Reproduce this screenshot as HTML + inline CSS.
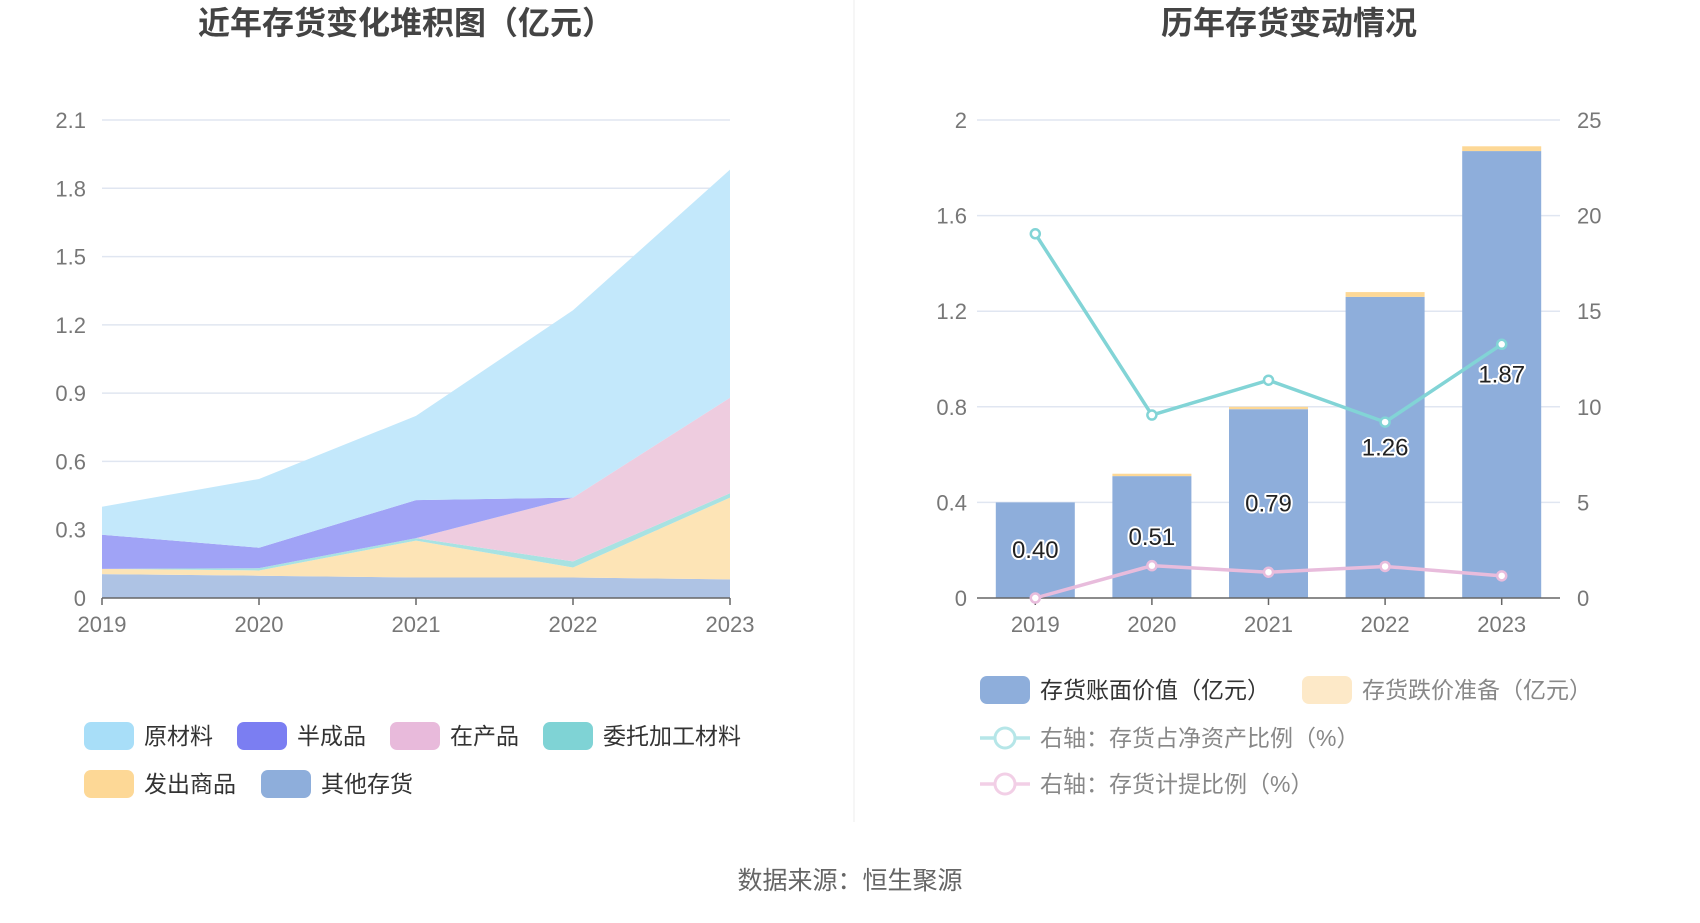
<!DOCTYPE html>
<html><head><meta charset="utf-8"><style>
html,body{margin:0;padding:0;background:#fff;}
svg text{font-family:"Liberation Sans","Noto Sans CJK SC",sans-serif;}
</style></head><body>
<svg id="c" width="1700" height="918" viewBox="0 0 1700 918" xmlns="http://www.w3.org/2000/svg">
<text x="406" y="34" text-anchor="middle" font-size="32" font-weight="bold" fill="#444">近年存货变化堆积图（亿元）</text>
<text x="1289" y="34" text-anchor="middle" font-size="32" font-weight="bold" fill="#444">历年存货变动情况</text>
<line x1="854" y1="0" x2="854" y2="822" stroke="#eee" stroke-width="1"/>
<g id="left"></g>
<g id="right"></g>
<g id="legends"></g>
<text x="850" y="889" text-anchor="middle" font-size="25" fill="#666">数据来源：恒生聚源</text>
</svg>
<script>
const years = ['2019','2020','2021','2022','2023'];
const seriesNames = ['其他存货','发出商品','委托加工材料','在产品','半成品','原材料'];
const other = [0.105,0.098,0.090,0.090,0.082];
const shipped = [0.023,0.023,0.162,0.044,0.359];
const consigned = [0.0,0.010,0.011,0.027,0.019];
const wip = [0.0,0.0,0.0,0.28,0.42];
const semi = [0.15,0.09,0.167,0.0,0.0];
const raw = [0.123,0.302,0.37,0.823,1.002];
const leftTicks = ['0','0.3','0.6','0.9','1.2','1.5','1.8','2.1'];
const bookValue = [0.40,0.51,0.79,1.26,1.87];
const provision = [0.0,0.01,0.01,0.02,0.02];
const bookLabels = ['0.40','0.51','0.79','1.26','1.87'];
const netAssetRatio = [19.05,9.57,11.39,9.2,13.27];
const provisionRatio = [0.0,1.69,1.35,1.65,1.16];
const rightTicksL = ['0','0.4','0.8','1.2','1.6','2'];
const rightTicksR = ['0','5','10','15','20','25'];

const NS='http://www.w3.org/2000/svg';
function mk(tag,attrs,parent,text){const e=document.createElementNS(NS,tag);for(const k in attrs)e.setAttribute(k,attrs[k]);if(text!==undefined)e.textContent=text;parent.appendChild(e);return e;}

// LEFT
const L=document.getElementById('left');
const lx0=102,lx1=730,y0=598,y1=120;
const lx=i=>lx0+i*(lx1-lx0)/4;
const ly=v=>y0-(v/2.1)*(y0-y1);
leftTicks.forEach(t=>{const v=parseFloat(t);const y=ly(v);
 if(v>0){const g=mk('line',{x1:lx0,x2:lx1,y1:y,y2:y,stroke:'#e0e6f1','stroke-width':1.5},L);}
 const tx=mk('text',{x:86,y:y+8,'text-anchor':'end','font-size':22,fill:'#777'},L,t);});
const layers=[other,shipped,consigned,wip,semi,raw];
const colors=['#aec3e4','#fde4b6','#a8e2e2','#eeccdf','#a0a3f6','#c3e8fb'];
let base=[0,0,0,0,0];
layers.forEach((arr,k)=>{const top=base.map((b,i)=>b+arr[i]);
 let d='M'+top.map((v,i)=>lx(i)+','+ly(v)).join(' L');
 for(let i=4;i>=0;i--)d+=' L'+lx(i)+','+ly(base[i]);d+='Z';
 const p=mk('path',{d:d,fill:colors[k]},L);
 base=top;});
const lax=mk('line',{x1:lx0,x2:lx1,y1:y0,y2:y0,stroke:'#666','stroke-width':1.5},L);
years.forEach((yr,i)=>{mk('line',{x1:lx(i),x2:lx(i),y1:y0,y2:y0+7,stroke:'#666','stroke-width':1.5},L);
 const t=mk('text',{x:lx(i),y:y0+34,'text-anchor':'middle','font-size':22,fill:'#777'},L,yr);});

// RIGHT
const R=document.getElementById('right');
const rx0=977,rx1=1560,band=(rx1-rx0)/5;
const rx=i=>rx0+band*(i+0.5);
const ryL=v=>y0-(v/2)*(y0-y1);
const ryR=v=>y0-(v/25)*(y0-y1);
rightTicksL.forEach((t,k)=>{const y=ryL(parseFloat(t));
 if(k>0){const g=mk('line',{x1:rx0,x2:rx1,y1:y,y2:y,stroke:'#e0e6f1','stroke-width':1.5},R);}
 const a=mk('text',{x:rx0-10,y:y+8,'text-anchor':'end','font-size':22,fill:'#777'},R,t);
 const b=mk('text',{x:1577,y:y+8,'text-anchor':'start','font-size':22,fill:'#777'},R,rightTicksR[k]);});
const bw=79;
years.forEach((yr,i)=>{
 const b=mk('rect',{x:rx(i)-bw/2,y:ryL(bookValue[i]),width:bw,height:ryL(0)-ryL(bookValue[i]),fill:'#8eaedb'},R);
 const tot=bookValue[i]+provision[i];
 const p=mk('rect',{x:rx(i)-bw/2,y:ryL(tot),width:bw,height:Math.max(0,ryL(bookValue[i])-ryL(tot)),fill:'#fdd896'},R);
});
const rax=mk('line',{x1:rx0,x2:rx1,y1:y0,y2:y0,stroke:'#666','stroke-width':1.5},R);
years.forEach((yr,i)=>{mk('line',{x1:rx(i),x2:rx(i),y1:y0,y2:y0+7,stroke:'#666','stroke-width':1.5},R);
 const t=mk('text',{x:rx(i),y:y0+34,'text-anchor':'middle','font-size':22,fill:'#777'},R,yr);});
function line(arr,color,name){
 const pl=mk('polyline',{points:arr.map((v,i)=>rx(i)+','+ryR(v)).join(' '),fill:'none',stroke:color,'stroke-width':3.5},R);
 arr.forEach((v,i)=>{const c=mk('circle',{cx:rx(i),cy:ryR(v),r:4.5,fill:'#fff',stroke:color,'stroke-width':2.5},R);});
}
line(provisionRatio,'#e8bcdc','provision-ratio-line');
line(netAssetRatio,'#82d4d6','net-asset-ratio-line');
years.forEach((yr,i)=>{const t=mk('text',{x:rx(i),y:ryL(bookValue[i]/2)+8,'text-anchor':'middle','font-size':24,fill:'#222',stroke:'#fff','stroke-width':4,'paint-order':'stroke','stroke-linejoin':'round'},R,bookLabels[i]);});

// LEGENDS
const G=document.getElementById('legends');
function sw(x,y,color,label,tc,name){
 const r=mk('rect',{x:x,y:y-14,width:50,height:28,rx:7,fill:color},G);
 const t=mk('text',{x:x+60,y:y+8,'font-size':23,fill:tc},G,label);}
sw(84,736,'#a8def8','原材料','#333','legend-raw');
sw(237,736,'#7b7ef2','半成品','#333','legend-semi');
sw(390,736,'#e8badb','在产品','#333','legend-wip');
sw(543,736,'#7fd3d5','委托加工材料','#333','legend-consigned');
sw(84,784,'#fdd896','发出商品','#333','legend-shipped');
sw(261,784,'#8eaedb','其他存货','#333','legend-other');
sw(980,690,'#8eaedb','存货账面价值（亿元）','#333','legend-book');
sw(1302,690,'#fde9c8','存货跌价准备（亿元）','#888','legend-provision');
function ll(y,color,label,name){
 const l=mk('line',{x1:980,x2:1030,y1:y,y2:y,stroke:color,'stroke-width':3.5},G);
 mk('circle',{cx:1005,cy:y,r:10,fill:'#fff',stroke:color,'stroke-width':3},G);
 const t=mk('text',{x:1040,y:y+8,'font-size':23,fill:'#888'},G,label);}
ll(738,'#b6e6e8','右轴：存货占净资产比例（%）','legend-net-asset-ratio');
ll(784,'#f2cfe6','右轴：存货计提比例（%）','legend-provision-ratio');
</script>
</body></html>
